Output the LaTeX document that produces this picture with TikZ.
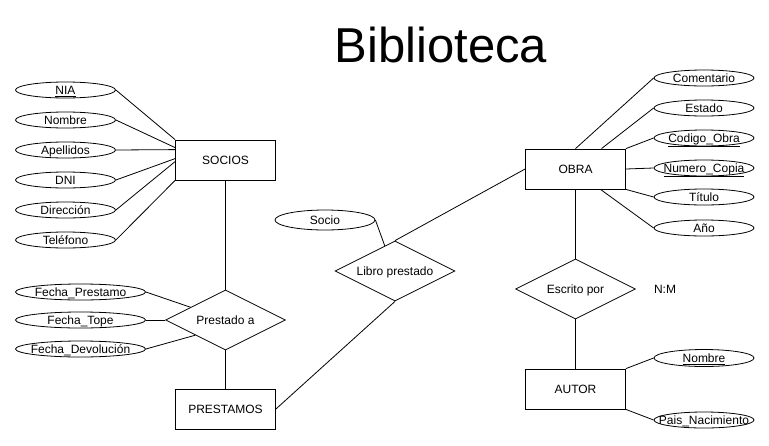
\documentclass[tikz,border=0pt]{standalone}
\usepackage{fontspec}
\setmainfont{Liberation Sans}
\usetikzlibrary{shapes.geometric,calc}
\newcommand{\ztext}[1]{\makebox[0pt]{#1}}
\begin{document}
\begin{tikzpicture}[x=1pt,y=-1pt,
  every node/.style={font=\fontsize{12}{14}\selectfont},
  attr/.style={draw,ellipse,minimum width=100,minimum height=16,inner sep=0pt,line width=0.8pt,text height=8.6pt,text depth=0pt},
  wattr/.style={attr,minimum width=130},
  ent/.style={draw,rectangle,minimum width=100,minimum height=40,inner sep=0pt,line width=0.8pt},
  rel/.style={draw,diamond,minimum width=120,minimum height=60,inner sep=0pt,line width=0.8pt,text height=8.6pt,text depth=0pt},
  conn/.style={draw,line width=0.8pt}]
\useasboundingbox (0,0) rectangle (769,445);

\node[anchor=base,font=\fontsize{49}{58}\selectfont] (title) at (441,62) {Biblioteca};

% SOCIOS
\node[ent] (socios) at (225.5,160) {SOCIOS};
\node[attr] (nia) at (65.5,90) {\ztext{\underline{NIA}}};
\node[attr] (snombre) at (65.5,120) {\ztext{Nombre}};
\node[attr] (apellidos) at (65.5,150) {\ztext{Apellidos}};
\node[attr] (dni) at (65.5,180) {\ztext{DNI}};
\node[attr] (direccion) at (65.5,210) {\ztext{Dirección}};
\node[attr] (telefono) at (65.5,240) {\ztext{Teléfono}};
\draw[conn] (nia.east) -- (socios.north west);
\draw[conn] (snombre.east) -- ($(socios.north west)+(0,8)$);
\draw[conn] (apellidos.east) -- ($(socios.north west)+(0,10)$);
\draw[conn] (dni.east) -- ($(socios.north west)+(0,19)$);
\draw[conn] (direccion.east) -- ($(socios.north west)+(0,22)$);
\draw[conn] (telefono.east) -- (socios.south west);

% Prestado a
\node[rel] (prestado) at (225.5,320) {\ztext{Prestado a}};
\node[wattr] (fprest) at (80.5,292) {\ztext{Fecha\_Prestamo}};
\node[wattr] (ftope) at (80.5,320) {\ztext{Fecha\_Tope}};
\node[wattr] (fdev) at (80.5,349) {\ztext{Fecha\_Devolución}};
\draw[conn] (socios.south) -- (prestado.north);
\draw[conn] (fprest.east) -- ($(prestado.west)!0.42!(prestado.north)$);
\draw[conn] (ftope.east) -- (prestado.west);
\draw[conn] (fdev.east) -- ($(prestado.west)!0.5!(prestado.south)$);

% PRESTAMOS
\node[ent] (prestamos) at (225.5,409) {PRESTAMOS};
\draw[conn] (prestado.south) -- (prestamos.north);

% Libro prestado
\node[rel] (libro) at (395,271) {\ztext{Libro prestado}};
\node[attr,minimum height=20] (socio) at (325,220) {\ztext{Socio}};
\draw[conn] (socio.east) -- ($(libro.west)!0.83!(libro.north)$);
\draw[conn] (prestamos.east) -- (libro.south);

% OBRA
\node[ent] (obra) at (575.5,169) {OBRA};
\draw[conn] (libro.north) -- (obra.west);
\node[attr] (comentario) at (704,78) {\ztext{Comentario}};
\node[attr] (estado) at (704,108) {\ztext{Estado}};
\node[attr] (codigo) at (704,138) {\ztext{\underline{Codigo\_Obra}}};
\node[attr] (numero) at (704,168) {\ztext{\underline{Numero\_Copia}}};
\node[attr] (titulo) at (704,197) {\ztext{Título}};
\node[attr] (ano) at (704,228) {\ztext{Año}};
\draw[conn] (obra.north) -- (comentario.west);
\draw[conn] ($(obra.north)+(26,0)$) -- (estado.west);
\draw[conn] (obra.north east) -- (codigo.west);
\draw[conn] (obra.east) -- (numero.west);
\draw[conn] (obra.south east) -- (titulo.west);
\draw[conn] ($(obra.south)+(25,0)$) -- (ano.west);

% Escrito por
\node[rel] (escrito) at (575.5,289) {\ztext{Escrito por}};
\node (nm) at (665,289) {N:M};
\draw[conn] (obra.south) -- (escrito.north);

% AUTOR
\node[ent] (autor) at (575.5,389) {AUTOR};
\draw[conn] (escrito.south) -- (autor.north);
\node[attr,minimum height=17] (anombre) at (704,358) {\ztext{\underline{Nombre}}};
\node[attr] (pais) at (704,420) {\ztext{Pais\_Nacimiento}};
\draw[conn] (autor.north east) -- (anombre.west);
\draw[conn] (autor.south east) -- (pais.west);
\end{tikzpicture}
\end{document}
